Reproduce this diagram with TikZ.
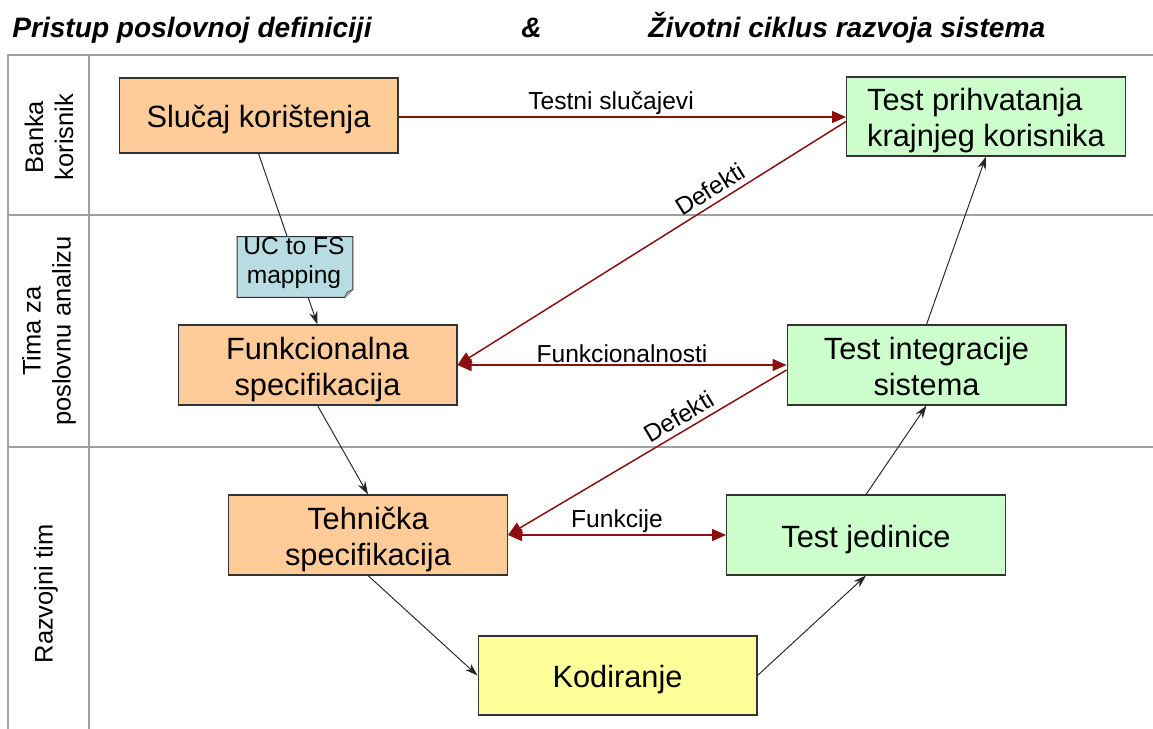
\documentclass[tikz,border=0pt]{standalone}
\usepackage{fontspec}
\setmainfont{Liberation Sans}
\usetikzlibrary{arrows.meta,calc}

\definecolor{specfill}{HTML}{FFCC99}
\definecolor{testfill}{HTML}{CCFFCC}
\definecolor{codefill}{HTML}{FFFF99}
\definecolor{notefill}{HTML}{B7DDE3}
\definecolor{feedred}{HTML}{8B0F0F}
\definecolor{gridgrey}{HTML}{A0A0A0}

\tikzset{
  box/.style={draw=black!80, line width=0.6pt, minimum width=5.58cm,
    minimum height=1.6cm, inner sep=0pt, align=center,
    font=\fontsize{17.5}{20.5}\selectfont},
  oneline/.style={text height=15pt, text depth=0.8pt},
  twoline/.style={text height=35pt, text depth=0.8pt},
  specbox/.style={box, fill=specfill},
  testbox/.style={box, fill=testfill},
  codebox/.style={box, fill=codefill},
  lanetitle/.style={rotate=90, align=center, inner sep=0pt,
    font=\fontsize{14.5}{17}\selectfont},
  headline/.style={anchor=base west, inner sep=0pt,
    font=\fontsize{16}{19}\selectfont\bfseries\itshape},
  flow/.style={draw=black!85, line width=0.55pt,
    -{Stealth[length=0.26cm,width=0.17cm]}},
  redtip/.tip={Triangle[length=0.28cm,width=0.24cm]},
  feed/.style={draw=feedred, line width=0.85pt, -redtip},
  feedboth/.style={feed, redtip-redtip},
  linklabel/.style={inner sep=1pt, font=\fontsize{14}{16}\selectfont},
  gridline/.style={draw=gridgrey, line width=0.9pt}
}

\begin{document}
\begin{tikzpicture}[x=0.02cm, y=-0.02cm]
  \useasboundingbox (0,0) rectangle (1153,729);

  % heading
  \node[headline] (h1) at (12,38) {Pristup poslovnoj definiciji};
  \node[headline] (h2) at (521,38) {\&};
  \node[headline] (h3) at (648,38) {Životni ciklus razvoja sistema};

  % swimlane grid
  \draw[gridline] (1153,55) -- (8,55) -- (8,729);
  \draw[gridline] (89,55) -- (89,729);
  \draw[gridline] (8,215) -- (1153,215);
  \draw[gridline] (8,447) -- (1153,447);

  % lane titles
  \node[lanetitle] (lane1) at (49,137) {Banka\\korisnik};
  \node[lanetitle] (lane2) at (49,331) {Tima za\\poslovnu analizu};
  \node[lanetitle] (lane3) at (46,594) {Razvojni tim};

  % process boxes
  \node[specbox, oneline, minimum height=1.5cm] (uc) at (258.5,115.5) {Slučaj korištenja};
  \node[testbox, twoline, align=left, minimum height=1.58cm] (uat) at (986,116.5) {Test prihvatanja\\krajnjeg korisnika};
  \node[specbox, twoline] (fs) at (317.5,365) {Funkcionalna\\specifikacija};
  \node[testbox, twoline] (sit) at (926.5,365) {Test integracije\\sistema};
  \node[specbox, twoline] (ts) at (368,535) {Tehnička\\specifikacija};
  \node[testbox, oneline] (ut) at (866,535) {Test jedinice};
  \node[codebox, oneline, minimum height=1.58cm] (code) at (617.5,675.5) {Kodiranje};

  % V-model flow
  \draw[flow] (uc.south) -- (fs.north);
  \draw[flow] (fs.south) -- (ts.north);
  \draw[flow] (ts.south) -- (code.west);
  \draw[flow] (code.east) -- (ut.south);
  \draw[flow] (ut.north) -- (sit.south);
  \draw[flow] (sit.north) -- (uat.south);

  % note with folded corner on the first flow
  \node[inner sep=0pt, minimum width=2.3cm, minimum height=1.2cm] (note) at (295,267) {};
  \draw[black!80, fill=notefill, line width=0.5pt] (note.north west) -- (note.north east)
    -- ($(note.south east)+(0,-8)$) -- ($(note.south east)+(-8,0)$)
    -- (note.south west) -- cycle;
  \draw[black!70, fill=black!25, line width=0.4pt] ($(note.south east)+(0,-8)$)
    -- ($(note.south east)+(-6,-5)$) -- ($(note.south east)+(-8,0)$);
  \node[align=center, inner sep=0pt, font=\fontsize{14}{17}\selectfont]
    (notetext) at (294,263) {UC to FS\\mapping};

  % feedback and traceability links
  \coordinate (ucout) at ($(uc.east)+(0,1.5)$);
  \draw[feed] (ucout) -- (ucout -| uat.west)
    node[linklabel, pos=0.475, above] (l1) {Testni slučajevi};
  \coordinate (uatdef) at ($(uat.west)+(0,5)$);
  \draw[feed] (uatdef) -- (fs.east)
    node[linklabel, inner sep=3pt, pos=0.33, above, sloped] (l2) {Defekti};
  \draw[feedboth] (fs.east) -- (sit.west)
    node[linklabel, midway, above] (l3) {Funkcionalnosti};
  \coordinate (sitdef) at ($(sit.west)+(0,5)$);
  \draw[feed] (sitdef) -- (ts.east)
    node[linklabel, inner sep=3pt, pos=0.36, above, sloped] (l4) {Defekti};
  \draw[feedboth] (ts.east) -- (ut.west)
    node[linklabel, midway, above] (l5) {Funkcije};
\end{tikzpicture}
\end{document}
